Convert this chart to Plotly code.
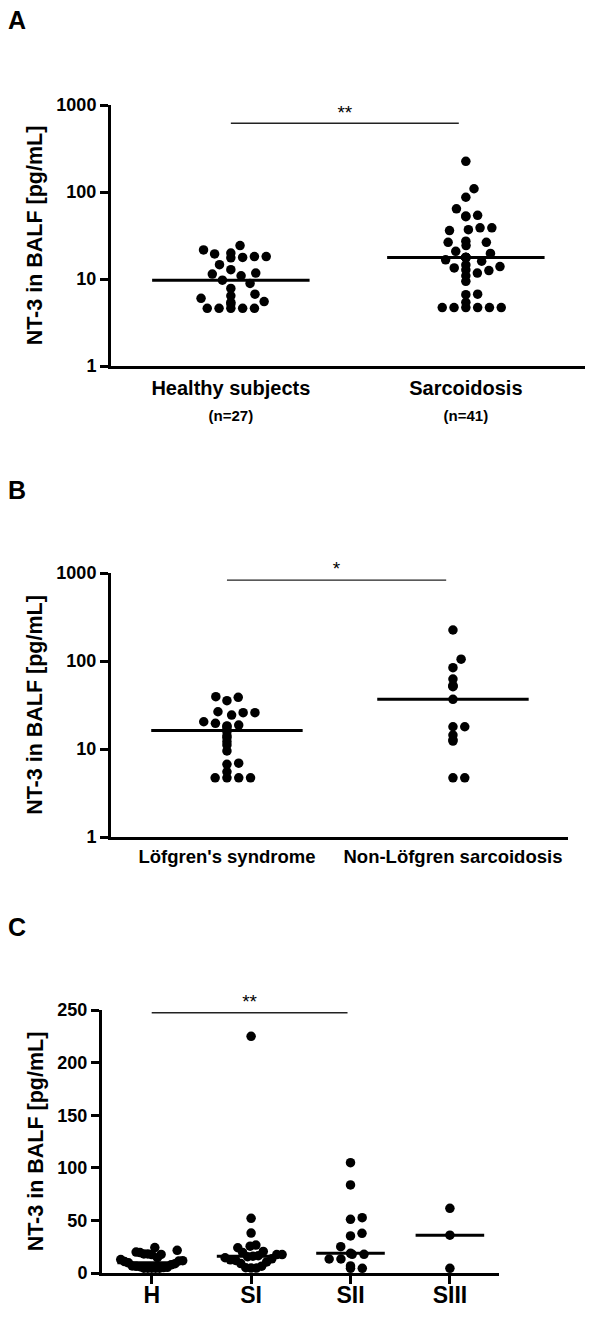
import math
import numpy as np
import plotly.graph_objects as go

# ---------------- data ----------------
# Panel A
groups_A = ["Healthy subjects", "Sarcoidosis"]
counts_A = ["(n=27)", "(n=41)"]
healthy = [24.2, 21.6, 19.9, 19.4, 18.1, 18.1, 17.7, 17.5, 14.6, 12.8, 11.7, 11.4,
           10.9, 9.7, 8.9, 7.8, 6.7, 6.4, 6.0, 5.5, 5.4, 5.15, 4.6, 4.6, 4.6, 4.6, 4.6]
sarcoidosis = [225, 109, 87, 64, 54, 53, 52, 38.7, 38.7, 36.9, 36, 27.2, 26.4, 26.4,
               24.2, 20.8, 19.7, 17.7, 17.7, 17.7, 17.7, 17.7, 16.6, 16.0, 14.5, 13.9,
               13.4, 12.7, 12.5, 11.7, 10.9, 9.4, 6.7, 6.6, 5.4, 4.7, 4.7, 4.7, 4.7, 4.7, 4.7]

# Panel B
groups_B = ["Löfgren's syndrome", "Non-Löfgren sarcoidosis"]
lofgren = [39.3, 38.7, 35.4, 26.5, 25.9, 25.9, 24.3, 20.4, 19.6, 18.7, 18.3, 18.0, 16.7,
           15.7, 14.1, 13.4, 12.1, 11.1, 9.5, 6.9, 6.7, 5.5, 4.7, 4.7, 4.7, 4.7]
non_lofgren = [225, 105, 84, 62.4, 52.4, 52, 51, 36.7, 17.9, 17.9, 14.4, 12.7, 12.3, 4.7, 4.7]

# Panel C
groups_C = ["H", "SI", "SII", "SIII"]
stage_H = healthy
stage_SI = [225, 52, 38, 26.5, 25.5, 24, 20.5, 19.5, 17.5, 17.5, 16.5, 16, 15.5, 14.5,
            13.5, 12.5, 12, 10.5, 9, 6.5, 5, 4.7, 4.7]
stage_SII = [104.9, 83.7, 52.6, 51, 37.7, 35.2, 25, 18.7, 17.8, 17.8, 13.3, 13.3, 6.7, 4.5, 4.5]
stage_SIII = [61.5, 36, 4.5]

y_ticks_log = [1, 10, 100, 1000]
y_ticks_lin = [0, 50, 100, 150, 200, 250]

# significance brackets: (from group, to group, level, label)
sig_A = (0, 1, 617, "**")
sig_B = (0, 1, 832, "*")
sig_C = (0, 2, 247.4, "**")

# ---------------- layout geometry (pixels) ----------------
W, H = 600, 1317
FONT = "Liberation Sans, Arial, Helvetica, sans-serif"

PA = dict(l=111, r=585, t=105, b=366, xr=[-0.51, 1.507])
PB = dict(l=111, r=568, t=573, b=837, xr=[-0.513, 1.509])
PC = dict(l=102, r=499, t=1010, b=1273, xr=[-0.5, 3.494])

def xdom(p):
    return [p["l"] / W, p["r"] / W]

def ydom(p):
    return [1 - p["b"] / H, 1 - p["t"] / H]

def px_per_cat(p):
    return (p["r"] - p["l"]) / (p["xr"][1] - p["xr"][0])


def swarm(vals, ypx, D=11.8, limit=None):
    """Greedy beeswarm in pixel space (ascending order)."""
    vals = np.asarray(vals, dtype=float)
    order = np.argsort(vals, kind="stable")
    placed = []
    xs = np.zeros(len(vals))
    for i in order:
        y = ypx(vals[i])
        cands = [0.0]
        for (qx, qy) in placed:
            dy = y - qy
            if abs(dy) < D:
                dx = math.sqrt(D * D - dy * dy)
                cands += [qx + dx, qx - dx]
        cands = sorted(set(round(c, 6) for c in cands), key=lambda c: (abs(c), c < 0))
        best = 0.0
        for c in cands:
            ok = all((c - qx) ** 2 + (y - qy) ** 2 >= D * D - 1e-6 for qx, qy in placed)
            if ok:
                best = c
                break
        xs[i] = best
        placed.append((best, y))
    m = np.max(np.abs(xs)) if len(xs) else 0
    if limit is not None and m > limit:
        xs = xs * (limit / m)
    return xs


fig = go.Figure()

def add_group(vals, pos, panel, ypx, axis_suffix, limit=None):
    offs = swarm(vals, ypx, limit=limit) / px_per_cat(panel)
    fig.add_trace(go.Scatter(
        x=pos + offs, y=vals, mode="markers",
        marker=dict(size=9.5, color="black", line=dict(width=0)),
        xaxis="x" + axis_suffix, yaxis="y" + axis_suffix,
        showlegend=False, cliponaxis=False, hoverinfo="y"))

def add_medians(groups_vals, half, axis_suffix):
    xs, ys = [], []
    for i, v in enumerate(groups_vals):
        m = float(np.median(v))
        xs += [i - half, i + half, None]
        ys += [m, m, None]
    fig.add_trace(go.Scatter(x=xs, y=ys, mode="lines",
                             line=dict(color="black", width=3),
                             xaxis="x" + axis_suffix, yaxis="y" + axis_suffix,
                             showlegend=False, cliponaxis=False, hoverinfo="skip"))

def add_sig(sig, axis_suffix):
    a, b, lvl, lab = sig
    fig.add_trace(go.Scatter(x=[a, b - 0.03], y=[lvl, lvl], mode="lines",
                             line=dict(color="#222", width=1.3),
                             xaxis="x" + axis_suffix, yaxis="y" + axis_suffix,
                             showlegend=False, cliponaxis=False, hoverinfo="skip"))
    fig.add_trace(go.Scatter(x=[(a + b - 0.03) / 2], y=[lvl], mode="text", text=[lab],
                             textposition="top center",
                             textfont=dict(family=FONT, size=19, color="black"),
                             xaxis="x" + axis_suffix, yaxis="y" + axis_suffix,
                             showlegend=False, cliponaxis=False, hoverinfo="skip"))

decA = (PA["b"] - PA["t"]) / 3.0
decB = (PB["b"] - PB["t"]) / 3.0
linC = (PC["b"] - PC["t"]) / 250.0

# Panel A
add_group(healthy, 0, PA, lambda v: decA * math.log10(v), "")
add_group(sarcoidosis, 1, PA, lambda v: decA * math.log10(v), "")
add_medians([healthy, sarcoidosis], 0.335, "")
add_sig(sig_A, "")

# Panel B
add_group(lofgren, 0, PB, lambda v: decB * math.log10(v), "2")
add_group(non_lofgren, 1, PB, lambda v: decB * math.log10(v), "2")
add_medians([lofgren, non_lofgren], 0.335, "2")
add_sig(sig_B, "2")

# Panel C
for i, g in enumerate([stage_H, stage_SI, stage_SII, stage_SIII]):
    add_group(g, i, PC, lambda v: linC * v, "3", limit=31)
add_medians([stage_H, stage_SI, stage_SII, stage_SIII], 0.345, "3")
add_sig(sig_C, "3")

tickfont = dict(family=FONT, size=18, color="black", weight="bold")
titlefont = dict(family=FONT, size=21.5, color="black", weight="bold")

def yaxis(p, **kw):
    d = dict(domain=ydom(p), showline=True, linewidth=3, linecolor="black",
             ticks="outside", ticklen=8, tickwidth=3, tickcolor="black",
             showgrid=False, zeroline=False, tickfont=tickfont,
             title=dict(text="NT-3 in BALF [pg/mL]", font=titlefont, standoff=8),
             automargin=False, fixedrange=True)
    d.update(kw)
    return d

def xaxis(p, **kw):
    d = dict(domain=xdom(p), range=p["xr"], showline=True, linewidth=3, linecolor="black",
             showgrid=False, zeroline=False, automargin=False, fixedrange=True)
    d.update(kw)
    return d

labels_A = [f"{g}<br><span style='font-size:15px'>{c}</span>" for g, c in zip(groups_A, counts_A)]

fig.update_layout(
    width=W, height=H,
    margin=dict(l=0, r=0, t=0, b=0),
    paper_bgcolor="white", plot_bgcolor="white",
    font=dict(family=FONT, color="black"),
    xaxis=xaxis(PA, anchor="y", tickvals=[0, 1], ticktext=labels_A,
                ticks="outside", ticklen=2, tickcolor="rgba(0,0,0,0)",
                tickfont=dict(family=FONT, size=20, color="black", weight="bold")),
    yaxis=yaxis(PA, anchor="x", type="log", range=[0, 3], tickvals=y_ticks_log,
                ticktext=[str(t) for t in y_ticks_log]),
    xaxis2=xaxis(PB, anchor="y2", tickvals=[0, 1], ticktext=groups_B,
                 ticks="outside", ticklen=1, tickcolor="rgba(0,0,0,0)",
                 tickfont=dict(family=FONT, size=18.5, color="black", weight="bold")),
    yaxis2=yaxis(PB, anchor="x2", type="log", range=[0, 3], tickvals=y_ticks_log,
                 ticktext=[str(t) for t in y_ticks_log]),
    xaxis3=xaxis(PC, anchor="y3", tickvals=[0, 1, 2, 3], ticktext=groups_C,
                 ticks="outside", ticklen=8, tickwidth=3, tickcolor="black",
                 ticklabelstandoff=-9,
                 tickfont=dict(family=FONT, size=23, color="black", weight="bold")),
    yaxis3=yaxis(PC, anchor="x3", range=[0, 250], tickvals=y_ticks_lin),
)

for letter, ypix in [("A", 20), ("B", 490), ("C", 927)]:
    fig.add_annotation(text=letter, x=6 / W, y=1 - ypix / H, xref="paper", yref="paper",
                       xanchor="left", yanchor="middle", showarrow=False,
                       font=dict(family=FONT, size=25, color="black", weight="bold"))

fig.write_html("out.html", config={"displayModeBar": False, "staticPlot": True},
               post_script="document.body.style.margin='0';document.body.style.padding='0';")
